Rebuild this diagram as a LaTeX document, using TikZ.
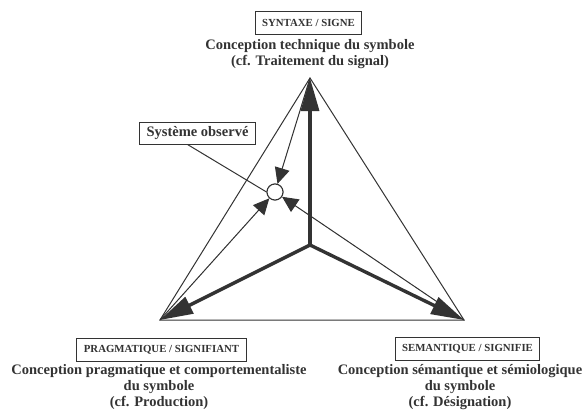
\documentclass[tikz,border=0pt]{standalone}
\usepackage{fontspec}
\setmainfont{Liberation Serif}
\usetikzlibrary{arrows.meta}
\definecolor{ink}{HTML}{333333}
\begin{document}
\begin{tikzpicture}[x=1pt,y=-1pt,
  thinline/.style={draw=ink,line width=1pt},
  thickline/.style={draw=ink,line width=3.4pt},
  bighead/.style={-{Triangle[length=33pt,width=18pt]}},
  smallhead/.style={-{Triangle[length=16pt,width=15pt]}},
  tagbox/.style={draw=ink,line width=1pt,font=\bfseries\fontsize{10.8}{12}\selectfont,inner xsep=7pt,inner ysep=0pt,minimum height=23pt,text=ink,fill=white},
  caption/.style={font=\bfseries\fontsize{14.5}{16}\selectfont,align=center,text=ink,inner sep=0pt}]
\useasboundingbox (0,0) rectangle (584,412);
\coordinate (T) at (310,78);
\coordinate (L) at (160,320);
\coordinate (R) at (464,320);
\coordinate (C) at (310,245);
\node[circle,draw=ink,line width=1pt,fill=white,minimum size=16pt,inner sep=0pt] (O) at (275,192) {};
% triangle
\draw[thinline] (T) -- (L) -- (R) -- cycle;
% thick arrows
\draw[thickline,bighead,fill=ink] (C) -- (T);
\draw[thickline,bighead,fill=ink] (C) -- (L);
\draw[thickline,bighead,fill=ink] (C) -- (R);
% thin arrows to observed system
\draw[thinline,smallhead,fill=ink] (T) -- (O);
\draw[thinline,smallhead,fill=ink] (L) -- (O);
\draw[thinline,smallhead,fill=ink] (R) -- (O);
\node[circle,draw=ink,line width=1pt,fill=white,minimum size=16pt,inner sep=0pt] at (O) {};
% observed system label
\node[draw=ink,line width=1pt,font=\bfseries\fontsize{14.5}{16}\selectfont,text=ink,inner xsep=7pt,inner ysep=0pt,minimum height=22pt,fill=white] (S) at (197.5,133) {Système observé};
\coordinate (Sa) at ([xshift=-10pt]S.south);
\draw[thinline] (Sa) -- (O.west);
% top labels
\node[tagbox] (TS) at (308.5,23) {SYNTAXE / SIGNE};
\node[caption] (TC) at (310,54) {Conception technique du symbole\\(cf. Traitement du signal)};
% bottom left
\node[tagbox] (LS) at (161.5,350) {PRAGMATIQUE / SIGNIFIANT};
\node[caption] (LC) at (159,387) {Conception pragmatique et comportementaliste\\du symbole\\(cf. Production)};
% bottom right
\node[tagbox] (RS) at (467.5,349) {SEMANTIQUE / SIGNIFIE};
\node[caption] (RC) at (460,387) {Conception sémantique et sémiologique\\du symbole\\(cf. Désignation)};
\end{tikzpicture}
\end{document}
